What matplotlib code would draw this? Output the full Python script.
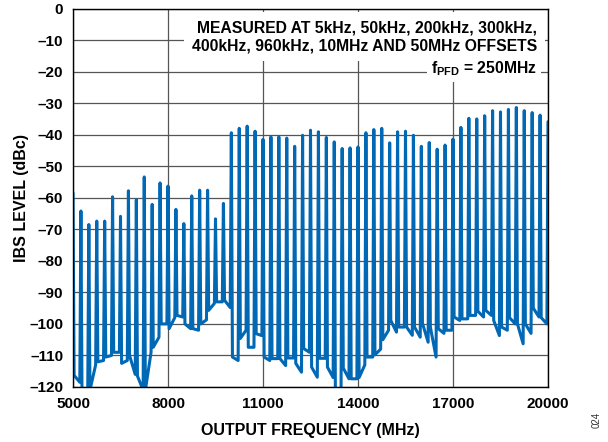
import numpy as np
import matplotlib
matplotlib.use("Agg")
import matplotlib.pyplot as plt

plt.rcParams['font.family'] = ['Liberation Sans', 'DejaVu Sans']
plt.rcParams['font.weight'] = 'bold'
plt.rcParams['mathtext.fontset'] = 'custom'
plt.rcParams['mathtext.rm'] = 'Liberation Sans:bold'

# harmonics of fPFD = 250MHz
freq_mhz = np.arange(5000, 20001, 250)

# spur peak level at each harmonic (dBc)
peak_dbc = [
    -58.5, -64.2, -68.5, -67.4, -67.4, -59.7, -65.9, -57.8, -60.6, -53.4,
    -62.1, -55.3, -56.3, -63.7, -68.2, -59.4, -57.6, -57.6, -66.7, -61.8,
    -39.4, -38.0, -37.3, -38.9, -41.5, -40.7, -40.7, -41.1, -43.7, -40.2,
    -38.6, -39.1, -40.9, -42.3, -44.4, -44.2, -43.9, -39.4, -38.4, -38.0,
    -42.6, -39.1, -38.9, -40.2, -43.7, -42.5, -44.6, -43.3, -41.4, -37.7,
    -34.8, -35.0, -34.0, -32.4, -32.8, -32.0, -31.4, -32.4, -33.0, -33.8,
    -35.9,
]

# floor between harmonics: just after each spur and just before the next
floor_after = [
    -116.3, -123.0, -121.0, -112.0, -110.5, -109.0, -112.5, -110.0, -116.5, -121.0,
    -107.4, -100.0, -101.5, -97.3, -100.0, -101.5, -100.0, -95.7, -93.0, -92.5,
    -110.5, -104.6, -107.4, -103.1, -110.5, -111.0, -111.0, -110.8, -112.5, -107.8,
    -113.7, -110.9, -113.7, -121.0, -114.0, -117.4, -117.0, -110.5, -109.8, -105.0,
    -98.9, -101.0, -101.0, -101.0, -99.8, -101.0, -101.5, -102.0, -97.8, -98.4,
    -97.3, -96.0, -95.7, -98.9, -101.0, -98.0, -100.0, -100.0, -95.0, -98.0,
]
floor_before = [
    -118.5, -122.0, -113.0, -111.6, -110.0, -109.0, -111.6, -116.0, -121.0, -109.0,
    -104.2, -100.0, -98.0, -97.8, -101.5, -102.0, -98.7, -93.5, -93.0, -94.8,
    -111.6, -102.0, -107.4, -103.7, -111.6, -111.0, -113.2, -110.8, -115.3, -109.0,
    -116.9, -110.9, -117.0, -120.5, -117.4, -117.4, -113.0, -110.5, -108.0, -102.0,
    -102.6, -101.0, -103.6, -104.2, -105.8, -110.5, -103.0, -102.0, -98.9, -98.4,
    -97.3, -97.8, -97.3, -103.7, -102.0, -100.0, -106.3, -103.0, -97.8, -100.0,
]

xticks = [5000, 8000, 11000, 14000, 17000, 20000]
yticks = list(range(-120, 1, 10))

xs, ys = [], []
for i, f in enumerate(freq_mhz):
    xs.append(f)
    ys.append(peak_dbc[i])
    if i < len(floor_after):
        xs += [f + 35, f + 215]
        ys += [floor_after[i], floor_before[i]]

fig = plt.figure(figsize=(6.08, 4.42), dpi=100)
ax = fig.add_axes([73 / 608, 1 - 387 / 442, 475 / 608, 378.5 / 442])

ax.plot(xs, ys, color='#0068b5', lw=2.2, solid_joinstyle='round',
        solid_capstyle='round', zorder=3)

ax.set_xlim(5000, 20000)
ax.set_ylim(-120, 0)
ax.set_xticks(xticks)
ax.set_yticks(yticks)
ax.set_yticklabels([str(v).replace('-', '\u2013') for v in yticks])
ax.grid(True, color='#555555', lw=0.9)
ax.tick_params(length=0, labelsize=11, pad=7)
for s in ax.spines.values():
    s.set_linewidth(1.0)
    s.set_zorder(5)

ax.set_xlabel('OUTPUT FREQUENCY (MHz)', fontsize=11.5, fontweight='bold', labelpad=9)
ax.set_ylabel('IBS LEVEL (dBc)', fontsize=11.5, fontweight='bold')
ax.yaxis.set_label_coords(-0.092, 0.5)

ax.text(0.977, 0.890,
        'MEASURED AT 5kHz, 50kHz, 200kHz, 300kHz,\n400kHz, 960kHz, 10MHz AND 50MHz OFFSETS',
        transform=ax.transAxes, ha='right', va='baseline', ma='right',
        fontsize=11.3, fontweight='bold', linespacing=1.22, zorder=4,
        bbox=dict(facecolor='white', edgecolor='none', pad=6))
ax.text(0.977, 0.830, r'f$_{\mathrm{PFD}}$ = 250MHz',
        transform=ax.transAxes, ha='right', va='baseline',
        fontsize=11.3, fontweight='bold', zorder=4,
        bbox=dict(facecolor='white', edgecolor='none', pad=3))

fig.text(0.982, 0.05, '024', rotation=90, fontsize=7, fontweight='normal',
         color='#333333', ha='center', va='center')

fig.savefig('out.png', dpi=100)
